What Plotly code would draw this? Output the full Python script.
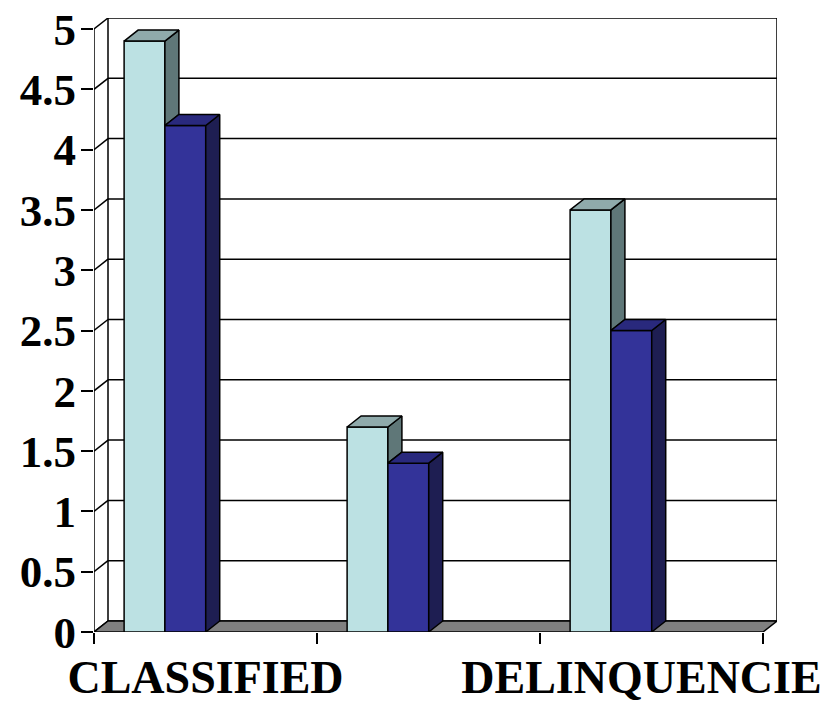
import plotly.graph_objects as go

# ---- data ----
categories = ["CLASSIFIED", "", "DELINQUENCIE"]
cat_pos = [0, 1, 2]
series_light = [4.9, 1.7, 3.5]
series_dark = [4.2, 1.4, 2.5]
y_tick_vals = [0, 0.5, 1, 1.5, 2, 2.5, 3, 3.5, 4, 4.5, 5]
y_tick_text = ["0", "0.5", "1", "1.5", "2", "2.5", "3", "3.5", "4", "4.5", "5"]

# ---- page / 3-D geometry ----
W, H = 828, 704
ML, MR, MT, MB = 94, 51, 18, 72
DX_PX, DY_PX = 14, 11          # depth offset of the back wall, in pixels
plot_w = W - ML - MR
plot_h = H - MT - MB
x_unit = (plot_w - DX_PX) / 3.0
y_unit = (plot_h - DY_PX) / 5.0
dxu = DX_PX / x_unit           # depth offset in data units
dyu = DY_PX / y_unit

x_lo, x_hi = -0.5, 2.5
y_max = 5

BAR_W = 0.183
OFF_LIGHT = -0.365
OFF_DARK = OFF_LIGHT + BAR_W

LIGHT_FRONT, LIGHT_TOP, LIGHT_SIDE = "#BCE1E3", "#8FAAAB", "#5F7778"
DARK_FRONT, DARK_TOP, DARK_SIDE = "#333399", "#29297D", "#1E1E52"
EDGE = "black"
SERIF = "Liberation Serif, Times New Roman, serif"
Y_FONT = dict(family=SERIF, size=45, color="black", weight="bold")
X_FONT = dict(family=SERIF, size=46, color="black", weight="bold")

fig = go.Figure()

# front faces
fig.add_trace(go.Bar(x=cat_pos, y=series_light, width=BAR_W, offset=OFF_LIGHT,
                     marker=dict(color=LIGHT_FRONT, line=dict(color=EDGE, width=1.5)),
                     hoverinfo="skip", showlegend=False))
fig.add_trace(go.Bar(x=cat_pos, y=series_dark, width=BAR_W, offset=OFF_DARK,
                     marker=dict(color=DARK_FRONT, line=dict(color=EDGE, width=1.5)),
                     hoverinfo="skip", showlegend=False))


def poly_trace(polys, color):
    xs, ys = [], []
    for p in polys:
        for (px, py) in p:
            xs.append(px)
            ys.append(py)
        xs.append(p[0][0])
        ys.append(p[0][1])
        xs.append(None)
        ys.append(None)
    return go.Scatter(x=xs, y=ys, mode="lines", fill="toself", fillcolor=color,
                      line=dict(color=EDGE, width=1.5), hoverinfo="skip",
                      showlegend=False)


light_top, light_side, dark_top, dark_side = [], [], [], []
for c, a, b in zip(cat_pos, series_light, series_dark):
    x0 = c + OFF_LIGHT
    x1 = x0 + BAR_W
    x2 = x1 + BAR_W
    light_top.append([(x0, a), (x1, a), (x1 + dxu, a + dyu), (x0 + dxu, a + dyu)])
    if a > b:
        # only the part of the side face rising above the neighbouring bar shows
        light_side.append([(x1, b), (x1, a), (x1 + dxu, a + dyu), (x1 + dxu, b + dyu)])
    dark_top.append([(x1, b), (x2, b), (x2 + dxu, b + dyu), (x1 + dxu, b + dyu)])
    dark_side.append([(x2, 0), (x2, b), (x2 + dxu, b + dyu), (x2 + dxu, dyu)])

fig.add_trace(poly_trace(light_side, LIGHT_SIDE))
fig.add_trace(poly_trace(light_top, LIGHT_TOP))
fig.add_trace(poly_trace(dark_side, DARK_SIDE))
fig.add_trace(poly_trace(dark_top, DARK_TOP))

# ---- walls and floor ----
shapes = []
# back wall
shapes.append(dict(type="rect", xref="x", yref="y", layer="below",
                   x0=x_lo + dxu, x1=x_hi + dxu, y0=dyu, y1=y_max + dyu,
                   fillcolor="white", line=dict(color=EDGE, width=1.5)))
for v in y_tick_vals[1:-1]:
    shapes.append(dict(type="line", xref="x", yref="y", layer="below",
                       x0=x_lo + dxu, x1=x_hi + dxu, y0=v + dyu, y1=v + dyu,
                       line=dict(color=EDGE, width=1.5)))
# left side wall: front edge and depth lines at each tick
shapes.append(dict(type="line", xref="x", yref="y", layer="below",
                   x0=x_lo, x1=x_lo, y0=0, y1=y_max,
                   line=dict(color=EDGE, width=1.5)))
for v in y_tick_vals:
    shapes.append(dict(type="line", xref="x", yref="y", layer="below",
                       x0=x_lo, x1=x_lo + dxu, y0=v, y1=v + dyu,
                       line=dict(color=EDGE, width=1.5)))
# floor
shapes.append(dict(type="path", xref="x", yref="y", layer="below",
                   path=(f"M {x_lo},0 L {x_hi},0 L {x_hi + dxu},{dyu} "
                         f"L {x_lo + dxu},{dyu} Z"),
                   fillcolor="#808080", line=dict(color=EDGE, width=1.5)))

# last label is nudged left so it stays inside the page
label_pos = [0, 1, 2 - 0.045]

fig.update_layout(
    width=W, height=H,
    margin=dict(l=ML, r=MR, t=MT, b=MB),
    paper_bgcolor="white", plot_bgcolor="rgba(0,0,0,0)",
    barmode="overlay",
    shapes=shapes,
    xaxis=dict(range=[x_lo, x_hi + dxu], showgrid=False, zeroline=False,
               showline=False, tickmode="array", tickvals=label_pos,
               ticktext=categories, ticks="", tickfont=X_FONT,
               ticklabelstandoff=14, automargin=False, fixedrange=True,
               minor=dict(tickmode="array", tickvals=[-0.5, 0.5, 1.5, 2.5],
                          ticks="outside", ticklen=11, tickwidth=1.5,
                          tickcolor=EDGE, showgrid=False)),
    yaxis=dict(range=[0, y_max + dyu], showgrid=False, zeroline=False,
               showline=False, tickmode="array", tickvals=y_tick_vals,
               ticktext=y_tick_text, ticks="outside", ticklen=12,
               tickwidth=1.5, tickcolor=EDGE, tickfont=Y_FONT,
               ticklabelstandoff=-4, automargin=False, fixedrange=True),
)

fig.write_html("out.html")
